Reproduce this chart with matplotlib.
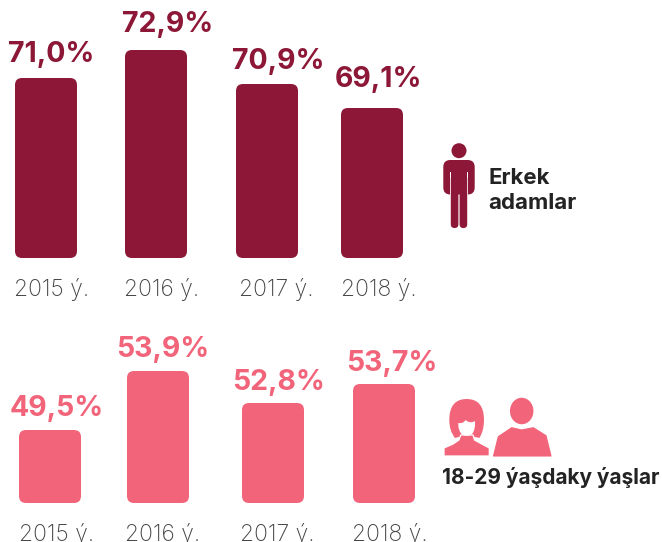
import matplotlib
matplotlib.use("Agg")
import matplotlib.pyplot as plt
from matplotlib.patches import FancyBboxPatch, Circle, Ellipse, Polygon, PathPatch
from matplotlib.path import Path

plt.rcParams['font.family'] = ['Inter', 'DejaVu Sans']

WIDTH, HEIGHT = 662, 542
DARK = '#8c1736'
PINK = '#f2647a'
GREY = '#444444'
TEXT = '#232323'

years = ['2015 ý.', '2016 ý.', '2017 ý.', '2018 ý.']
men_labels = ['71,0%', '72,9%', '70,9%', '69,1%']
men_heights = [180, 208, 174, 150]
youth_labels = ['49,5%', '53,9%', '52,8%', '53,7%']
youth_heights = [73, 132, 100, 119]

# bars are not evenly spaced in the original, centres in pixels
men_x = [46, 156, 267, 372]
men_label_x = [51, 168, 278, 379]
men_label_gap = [16, 18, 15, 21]
men_year_x = [52, 162, 276, 379]
youth_x = [50, 158, 273, 384]
youth_label_x = [57, 163, 279, 392]
youth_label_gap = [14, 14, 13, 13]
youth_year_x = [57, 163, 277, 390]
BAR_W = 62


def bar_axes(fig, bottom_px, top_px):
    ax = fig.add_axes([0, 1 - bottom_px / HEIGHT, 1, (bottom_px - top_px) / HEIGHT])
    ax.set_xlim(0, WIDTH)
    ax.set_ylim(0, bottom_px - top_px)
    ax.axis('off')
    ax.patch.set_alpha(0)
    return ax


def draw_panel(ax, xs, heights, labels, label_xs, gaps, year_xs, color):
    for x, h, lab, lx, gap, yx, yr in zip(xs, heights, labels, label_xs, gaps, year_xs, years):
        ax.add_patch(FancyBboxPatch((x - BAR_W / 2, 0), BAR_W, h,
                                    boxstyle='round,pad=0,rounding_size=7',
                                    fc=color, ec='none'))
        ax.text(lx, h + gap, lab, color=color, fontsize=20.5,
                fontweight='bold', ha='center', va='baseline', clip_on=False)
        ax.text(yx, -38, yr, color=GREY, fontsize=16.5, fontweight='light',
                ha='center', va='baseline', clip_on=False)


fig = plt.figure(figsize=(WIDTH / 100, HEIGHT / 100), dpi=100, facecolor='white')

top_ax = bar_axes(fig, 258, 40)
draw_panel(top_ax, men_x, men_heights, men_labels, men_label_x, men_label_gap, men_year_x, DARK)
low_ax = bar_axes(fig, 503, 360)
draw_panel(low_ax, youth_x, youth_heights, youth_labels, youth_label_x, youth_label_gap, youth_year_x, PINK)

# overlay in pixel coordinates for the icons and side captions
ov = fig.add_axes([0, 0, 1, 1])
ov.set_xlim(0, WIDTH)
ov.set_ylim(HEIGHT, 0)
ov.axis('off')
ov.patch.set_alpha(0)

# man icon
ov.add_patch(Circle((459, 150.7), 7.5, fc=DARK, ec='none'))
ov.add_patch(FancyBboxPatch((443.3, 160), 31.4, 34.5, boxstyle='round,pad=0,rounding_size=7', fc=DARK, ec='none'))
ov.add_patch(Polygon([(449.8, 172), (450.8, 172), (450.8, 196), (449.8, 196)], fc='white', ec='none'))
ov.add_patch(Polygon([(467.2, 172), (468.2, 172), (468.2, 196), (467.2, 196)], fc='white', ec='none'))
ov.add_patch(Polygon([(443, 188), (449.8, 188), (449.8, 196), (443, 196)], fc='white', ec='none', zorder=0.5))
ov.add_patch(FancyBboxPatch((450.8, 175), 7.6, 53, boxstyle='round,pad=0,rounding_size=3.7', fc=DARK, ec='none'))
ov.add_patch(FancyBboxPatch((459.6, 175), 7.6, 53, boxstyle='round,pad=0,rounding_size=3.7', fc=DARK, ec='none'))

# woman icon: hair, shoulders, face
hair = [(466.7, 399), (449.3, 399), (449.3, 420), (449.3, 431), (455, 438),
        (461, 436), (466.7, 436), (472, 436), (479.3, 438), (484, 431),
        (484, 420), (484, 399), (466.7, 399), (466.7, 399)]
hair_codes = [Path.MOVETO] + [Path.CURVE3] * 12 + [Path.CLOSEPOLY]
ov.add_patch(PathPatch(Path(hair, hair_codes), fc=PINK, ec='none'))
ov.add_patch(Polygon([(444, 456), (444, 448), (453, 444), (459, 440), (460.7, 435),
                      (473, 435), (474.5, 440), (481.7, 444), (489.3, 448), (489.3, 456)],
                     closed=True, fc=PINK, ec='white', lw=0.9, joinstyle='round'))
face = [(458.3, 423), (463, 424), (465.5, 420), (470, 424), (475, 421),
        (475.5, 430), (472, 434), (466.7, 437.5), (461.5, 434), (458, 430),
        (458.3, 423), (458.3, 423)]
face_codes = [Path.MOVETO] + [Path.CURVE3] * 10 + [Path.CLOSEPOLY]
ov.add_patch(PathPatch(Path(face, face_codes), fc='white', ec='none'))

# young man icon
ov.add_patch(Ellipse((521.7, 411), 23.5, 26.5, fc=PINK, ec='none'))
ov.add_patch(Polygon([(493.5, 456), (498.3, 436.7), (511.7, 427.7), (521.7, 430),
                      (533.3, 427.7), (546, 435.7), (551, 456)],
                     closed=True, fc=PINK, ec=PINK, lw=0.8, joinstyle='round'))

ov.text(488, 184, 'Erkek', color=TEXT, fontsize=16, fontweight='bold', ha='left', va='baseline')
ov.text(488, 209, 'adamlar', color=TEXT, fontsize=16, fontweight='bold', ha='left', va='baseline')
ov.text(442, 484, '18-29 ýaşdaky ýaşlar', color=TEXT, fontsize=15, fontweight='bold', ha='left', va='baseline')

fig.savefig('out.png', dpi=100)
